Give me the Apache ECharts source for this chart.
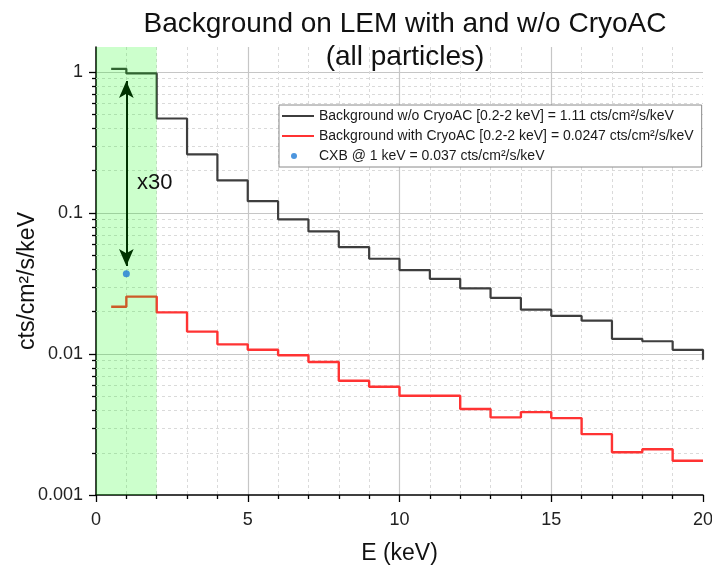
<!DOCTYPE html>
<html><head><meta charset="utf-8">
<script src="https://cdn.jsdelivr.net/npm/echarts@6/dist/echarts.min.js"></script>
<style>html,body{margin:0;padding:0;background:#fff}#c{width:712px;height:567px}</style>
</head><body><div id="c"></div>
<script>
// ---- data ----
const binEdges = [0.5,1,2,3,4,5,6,7,8,9,10,11,12,13,14,15,16,17,18,19,20];
const noCryoAC = [1.05,0.974,0.467,0.260,0.170,0.121,0.090,0.0739,0.0572,0.0473,0.0393,0.0341,0.0292,0.0250,0.0206,0.0186,0.0172,0.0128,0.0123,0.0107,0.0091];
const withCryoAC = [0.0216,0.0255,0.0197,0.0144,0.0117,0.0107,0.0098,0.00877,0.00646,0.00586,0.00506,0.00506,0.00407,0.00355,0.00387,0.00351,0.0027,0.00201,0.00211,0.00175,0.00175];
const cxbPoint = [1, 0.037];
const arrowEnds = [0.86, 0.042];
const bandRange = [0, 2];
const yTickValues = [0.001, 0.01, 0.1, 1];
const yTickLabels = ['0.001', '0.01', '0.1', '1'];
const xRange = [0, 20];
const yRange = [0.001, 1.5];
const seriesNames = [
  'Background w/o CryoAC [0.2-2 keV] = 1.11 cts/cm\u00b2/s/keV',
  'Background with CryoAC [0.2-2 keV] = 0.0247 cts/cm\u00b2/s/keV',
  'CXB @ 1 keV = 0.037 cts/cm\u00b2/s/keV'
];

const FONT = "'Liberation Sans', Arial, sans-serif";
const chart = echarts.init(document.getElementById('c'), null, {renderer: 'canvas'});

function zip(xs, ys) { return xs.map((x, i) => [x, ys[i]]); }

function renderYGrid(params, api) {
  const children = [];
  const xl = api.coord([xRange[0], 1])[0];
  const xr = api.coord([xRange[1], 1])[0];
  yTickValues.forEach(d => {
    for (let m = 2; m <= 9; m++) {
      const v = d * m;
      if (v > yRange[1]) break;
      const y = Math.round(api.coord([xRange[0], v])[1]) + 0.5;
      children.push({type: 'line', shape: {x1: xl, y1: y, x2: xr, y2: y},
        style: {stroke: '#dadada', lineWidth: 1, lineDash: [3, 3]}});
      children.push({type: 'line', shape: {x1: xl - 4, y1: y, x2: xl, y2: y},
        style: {stroke: '#000', lineWidth: 1.3}});
    }
    const y = Math.round(api.coord([xRange[0], d])[1]) + 0.5;
    children.push({type: 'line', shape: {x1: xl - 7, y1: y, x2: xl, y2: y},
      style: {stroke: '#000', lineWidth: 1.3}});
  });
  return {type: 'group', children};
}

const LINE_ICON = 'path://M0,0M32,14M0,6L32,6L32,8L0,8Z';
const DOT_ICON = 'path://M0,0M32,14M9,7A3,3 0 1,0 15,7A3,3 0 1,0 9,7Z';

const option = {
  backgroundColor: '#fff',
  animation: false,
  title: {
    text: 'Background on LEM with and w/o CryoAC\n(all particles)',
    left: 400, top: 3, textAlign: 'center',
    textStyle: {fontFamily: FONT, fontSize: 28, fontWeight: 'normal', color: '#111', lineHeight: 33}
  },
  grid: {left: 96, right: 9, top: 47, bottom: 72, containLabel: false, outerBoundsMode: 'none'},
  legend: {
    orient: 'vertical', left: 279, top: 105,
    itemWidth: 32, itemHeight: 14, itemGap: 6,
    padding: [4, 8, 4, 3],
    borderColor: '#8a8a8a', borderWidth: 1, backgroundColor: '#fff',
    textStyle: {fontFamily: FONT, fontSize: 14, color: '#1a1a1a'},
    data: [
      {name: seriesNames[0], icon: LINE_ICON},
      {name: seriesNames[1], icon: LINE_ICON},
      {name: seriesNames[2], icon: DOT_ICON}
    ]
  },
  xAxis: {
    type: 'value', min: xRange[0], max: xRange[1], interval: 5,
    name: 'E (keV)', nameLocation: 'middle', nameGap: 47,
    nameTextStyle: {fontFamily: FONT, fontSize: 23, color: '#111'},
    axisLine: {lineStyle: {color: '#000', width: 1.5}},
    axisTick: {length: 7, lineStyle: {color: '#000', width: 1.3}},
    minorTick: {show: true, splitNumber: 5, length: 4, lineStyle: {color: '#000', width: 1.3}},
    axisLabel: {fontFamily: FONT, fontSize: 18, color: '#222', margin: 16},
    splitLine: {show: true, showMaxLine: false, lineStyle: {color: '#c6c6c6', width: 1.2}},
    minorSplitLine: {show: true, lineStyle: {color: '#dadada', width: 1, type: [3, 3]}}
  },
  yAxis: {
    type: 'log', min: yRange[0], max: yRange[1],
    axisLine: {show: true, onZero: false, lineStyle: {color: '#000', width: 1.5}},
    axisTick: {show: false},
    axisLabel: {
      fontFamily: FONT, fontSize: 18, color: '#222', margin: 13, showMaxLabel: false,
      formatter: v => {
        const i = yTickValues.findIndex(t => Math.abs(Math.log10(t) - Math.log10(v)) < 1e-6);
        return i >= 0 ? yTickLabels[i] : '';
      }
    },
    splitLine: {show: true, showMinLine: false, showMaxLine: false, lineStyle: {color: '#c6c6c6', width: 1.2}}
  },
  graphic: [
    {type: 'text', left: 137, top: 172, z: 100,
      style: {text: 'x30', fontFamily: FONT, fontSize: 22, fill: '#111'}},
    {type: 'text', x: 28, y: 281, rotation: Math.PI / 2, z: 100,
      style: {text: 'cts/cm\u00b2/s/keV', fontFamily: FONT, fontSize: 23, fill: '#111',
        align: 'center', verticalAlign: 'middle'}}
  ],
  series: [
    {
      type: 'custom', name: 'ygrid', coordinateSystem: 'cartesian2d', silent: true, clip: false, z: 1,
      renderItem: renderYGrid, data: [[xRange[0], 1]], encode: {x: 0, y: 1}
    },
    {
      type: 'line', name: seriesNames[0], step: 'end', symbol: 'none', z: 3,
      data: zip(binEdges, noCryoAC),
      lineStyle: {color: '#3e3e3e', width: 2.2}, itemStyle: {color: '#3e3e3e'},
      markLine: {
        silent: true, z: 4, symbol: ['arrow', 'arrow'], symbolSize: [11, 17],
        label: {show: false},
        lineStyle: {color: '#000', width: 2, type: 'solid'},
        data: [[{coord: [cxbPoint[0], arrowEnds[0]]}, {coord: [cxbPoint[0], arrowEnds[1]]}]]
      }
    },
    {
      type: 'line', name: seriesNames[1], step: 'end', symbol: 'none', z: 3,
      data: zip(binEdges, withCryoAC),
      lineStyle: {color: '#ff3333', width: 2.4}, itemStyle: {color: '#ff3333'}
    },
    {
      type: 'line', name: 'band', data: [], z: 10, silent: true,
      markArea: {
        silent: true, z: 10,
        itemStyle: {color: 'rgba(0,255,0,0.2)'},
        data: [[{xAxis: bandRange[0]}, {xAxis: bandRange[1]}]]
      }
    },
    {
      type: 'scatter', name: seriesNames[2], symbol: 'circle', symbolSize: 7, z: 12,
      data: [cxbPoint], itemStyle: {color: '#1f7ad6'}
    }
  ]
};
chart.setOption(option);
</script>
</body></html>
